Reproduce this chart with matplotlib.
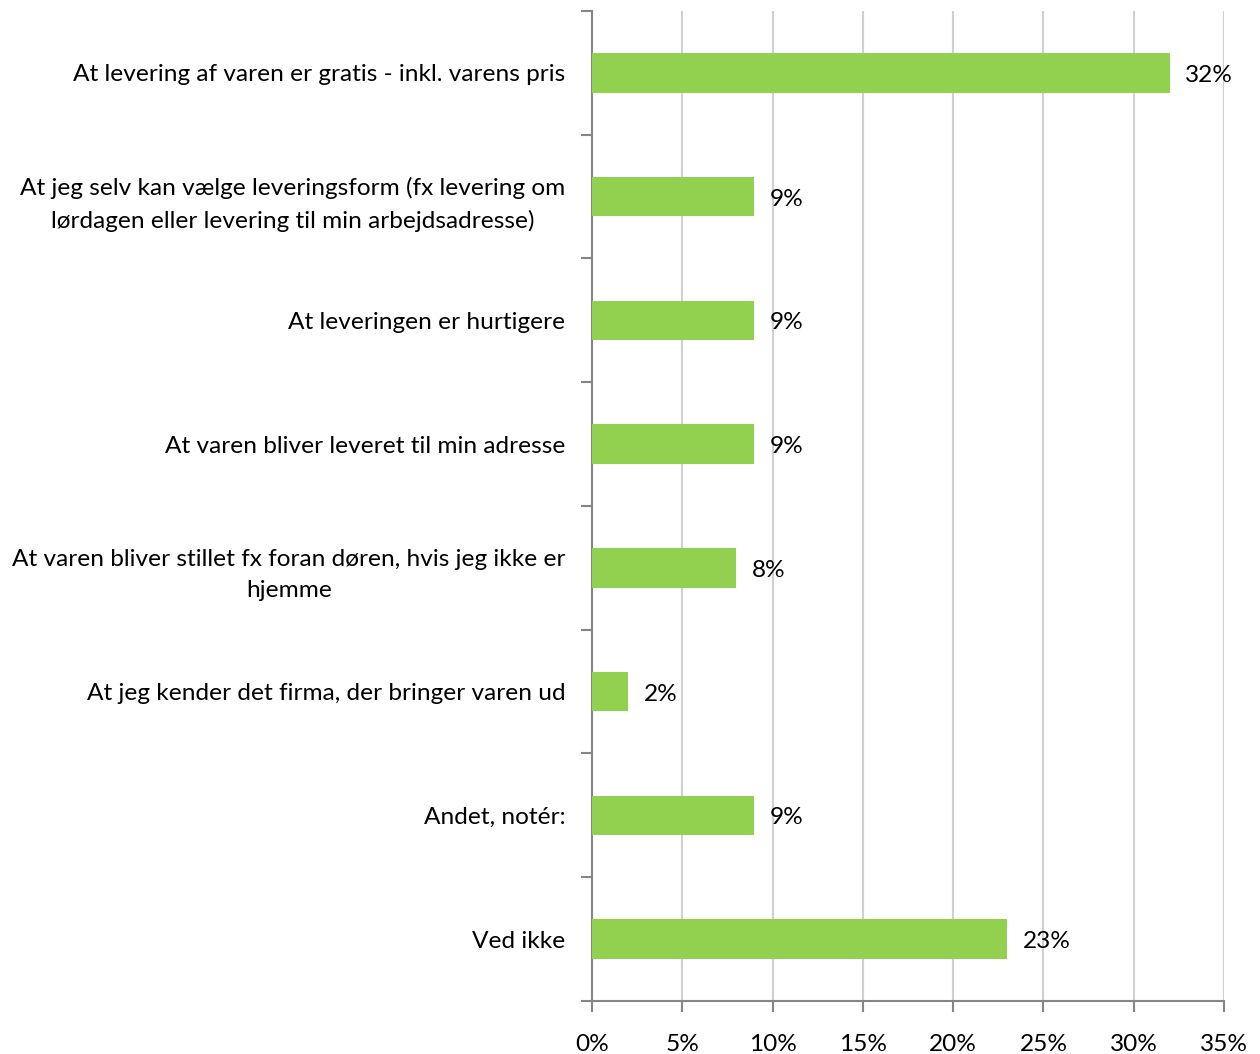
import matplotlib.pyplot as plt
from matplotlib.ticker import FixedLocator, NullFormatter

plt.rcParams['font.family'] = ['Lato', 'DejaVu Sans']

categories = [
    'At levering af varen er gratis - inkl. varens pris',
    'At jeg selv kan vælge leveringsform (fx levering om\nlørdagen eller levering til min arbejdsadresse)',
    'At leveringen er hurtigere',
    'At varen bliver leveret til min adresse',
    'At varen bliver stillet fx foran døren, hvis jeg ikke er\nhjemme',
    'At jeg kender det firma, der bringer varen ud',
    'Andet, notér:',
    'Ved ikke',
]
values = [32, 9, 9, 9, 8, 2, 9, 23]
xticks = [0, 5, 10, 15, 20, 25, 30, 35]

fs = 17.6

fig = plt.figure(figsize=(12.6, 10.54), dpi=100)
ax = fig.add_axes([0.4698, 0.0503, 0.5016, 0.9393])

ypos = list(range(len(categories)))
ax.barh(ypos, values, height=0.32, color='#92D050', zorder=3)

for y, v in zip(ypos, values):
    ax.text(v + 0.85, y + 0.02, f'{v}%', va='center', ha='left', fontsize=fs, color='black')

ax.set_xlim(0, 35)
ax.set_ylim(len(categories) - 0.5, -0.5)
ax.set_xticks(xticks)
ax.set_xticklabels([f'{t}%' for t in xticks], fontsize=fs)
ax.xaxis.grid(True, color='#D0D0D0', linewidth=1.5, zorder=0)

# category labels at centres, tick marks between categories
ax.set_yticks(ypos)
ax.set_yticklabels(categories, fontsize=fs, ha='right', multialignment='center',
                   linespacing=1.6)
ax.tick_params(axis='y', which='major', length=0, pad=19)
ax.yaxis.set_minor_locator(FixedLocator([i - 0.5 for i in range(len(categories) + 1)]))
ax.yaxis.set_minor_formatter(NullFormatter())
ax.tick_params(axis='y', which='minor', length=8, width=1.5, color='#868686')
ax.tick_params(axis='x', length=8, width=1.5, color='#868686', pad=16)

for side in ['top', 'right']:
    ax.spines[side].set_visible(False)
for side in ['left', 'bottom']:
    ax.spines[side].set_color('#868686')
    ax.spines[side].set_linewidth(1.5)

fig.savefig('out.png', dpi=100)
